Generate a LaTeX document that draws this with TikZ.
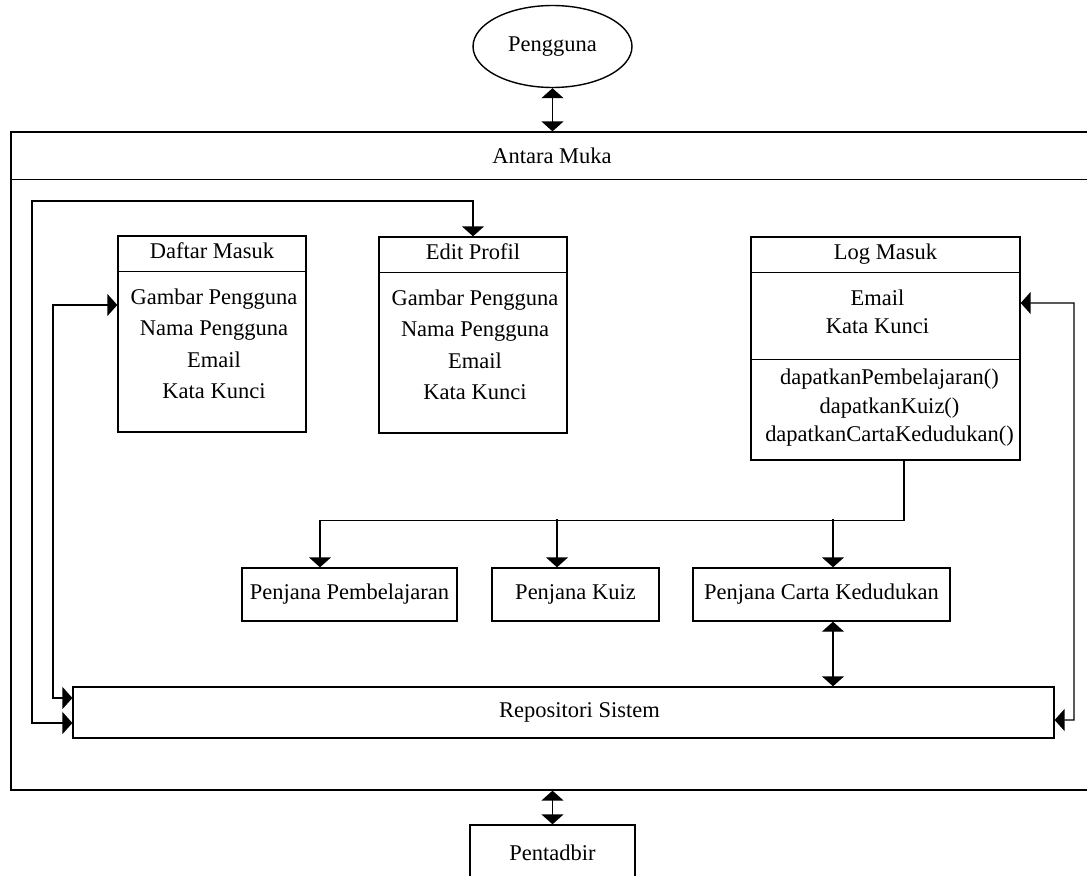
\documentclass[tikz,border=0pt]{standalone}
\usepackage{fontspec}
\setmainfont{Liberation Serif}
\usepackage{tikz}
\usetikzlibrary{shapes.geometric,arrows.meta,positioning,calc}

\begin{document}
\begin{tikzpicture}[
        x=0.02cm, y=-0.02cm,
        font=\fontsize{12.8}{17.9}\selectfont,
        line width=0.8pt,
        cls/.style={rectangle, draw, inner sep=0pt, minimum width=#1, minimum height=3.92cm},
        blok/.style={rectangle, draw, inner sep=2pt, minimum width=#1, minimum height=1.06cm},
        title/.style={anchor=base},
        arrow/.style={-{Triangle[width=0.44cm,length=0.2cm]}},
        dblarrow/.style={{Triangle[width=0.44cm,length=0.2cm]}-{Triangle[width=0.44cm,length=0.2cm]}}
    ]
        \useasboundingbox (0,0) rectangle (1087,875);

        % pengguna and the interface frame
        \node[ellipse, draw, minimum width=3.18cm, minimum height=1.64cm] (peng) at (552.5,46.5) {Pengguna};
        \node[rectangle, draw, minimum width=21.58cm, minimum height=13.16cm] (frame) at (550.5,461) {};
        \draw ($(frame.north west)+(0,48)$) -- ($(frame.north east)+(0,48)$);
        \node (am) at ($(frame.north)+(1.5,24)$) {Antara Muka};

        % class boxes
        \node[cls=3.76cm] (dm) at (212,334) {};
        \node[title] (dmt) at ($(dm.north)+(0,23)$) {Daftar Masuk};
        \draw ($(dm.north west)+(0,36)$) -- ($(dm.north east)+(0,36)$);
        \node[align=center] (dmb) at ($(dm.north)+(2,108.5)$) {Gambar Pengguna\\Nama Pengguna\\Email\\Kata Kunci};

        \node[cls=3.76cm] (ep) at (473,335) {};
        \node[title] (ept) at ($(ep.north)+(0,23)$) {Edit Profil};
        \draw ($(ep.north west)+(0,36)$) -- ($(ep.north east)+(0,36)$);
        \node[align=center] (epb) at ($(ep.north)+(2,108.5)$) {Gambar Pengguna\\Nama Pengguna\\Email\\Kata Kunci};

        \node[cls=5.38cm, minimum height=4.46cm] (lm) at (885.5,348.5) {};
        \node[title] (lmt) at ($(lm.north)+(0,23)$) {Log Masuk};
        \draw ($(lm.north west)+(0,36)$) -- ($(lm.north east)+(0,36)$);
        \draw ($(lm.north west)+(0,123)$) -- ($(lm.north east)+(0,123)$);
        \node[align=center, font=\fontsize{12.8}{16.4}\selectfont] (lmb) at ($(lm.north)+(-8,75.5)$) {Email\\Kata Kunci};
        \node[align=center, font=\fontsize{12.8}{16.2}\selectfont] (lmm) at ($(lm.north)+(4,171.5)$) {dapatkanPembelajaran()\\dapatkanKuiz()\\dapatkanCartaKedudukan()};

        % generators, repository, admin
        \node[blok=4.3cm] (pp) at (349.5,594.5) {Penjana Pembelajaran};
        \node[blok=3.34cm] (pk) at (575.5,594.5) {Penjana Kuiz};
        \node[blok=5.14cm] (pc) at (821.5,594.5) {Penjana Carta Kedudukan};
        \node[blok=19.62cm, minimum height=1.02cm] (rs) at (563.5,712.5) {\hspace*{0.64cm}Repositori Sistem};
        \node[blok=3.3cm, minimum height=1.1cm] (pt) at (552.5,852.5) {Pentadbir};

        % connectors
        \draw[dblarrow] (peng.south) -- (peng.south |- frame.north);
        \draw[dblarrow] (pt.north |- frame.south) -- (pt.north);
        \draw[dblarrow] (ep.north) |- (32,201) |- ($(rs.west)+(0,10.5)$);
        \draw[dblarrow] ($(dm.west)+(0,-29)$) -| (53,698) -- ($(rs.west)+(0,-14.5)$);
        \draw[dblarrow] ($(lm.east)+(0,-45.5)$) -| (1074,720) -- ($(rs.east)+(0,7.5)$);

        \coordinate (bus) at ($(lm.south)+(18.5,60)$);
        \draw (lm.south -| bus) -- (bus);
        \draw[arrow] (bus) -| ($(pp.north)+(-29.5,0)$);
        \draw[arrow] ($(pk.north)+(-18.5,-48)$) -- ($(pk.north)+(-18.5,0)$);
        \draw[arrow] ($(pc.north)+(11.5,-48)$) -- ($(pc.north)+(11.5,0)$);
        \draw[dblarrow] ($(pc.south)+(11.5,0)$) -- ($(rs.north)+(269.5,0)$);
    \end{tikzpicture}
\end{document}
